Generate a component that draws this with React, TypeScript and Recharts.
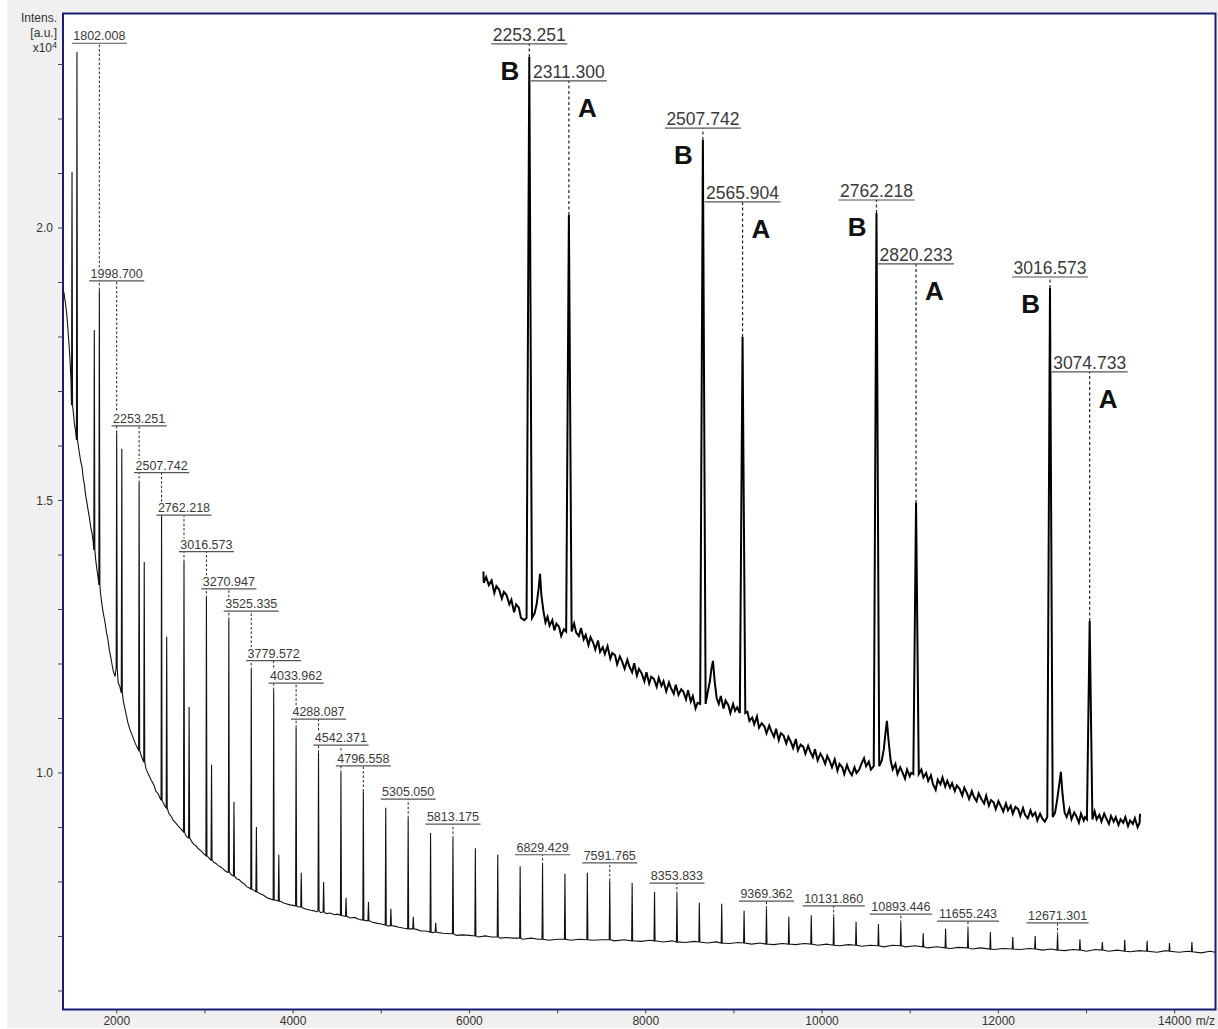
import React from 'react';
import { ComposedChart, Line, Scatter, XAxis, YAxis, ErrorBar, ReferenceArea, CartesianGrid } from 'recharts';

// ---------- main spectrum (m/z, intensity x10^4) ----------
const mainBaseline: [number, number][] = [
  [1384, 1.890], [1393, 1.884], [1401, 1.881], [1410, 1.870], [1418, 1.862], [1427, 1.850], [1435, 1.837],
  [1444, 1.818], [1452, 1.800], [1460, 1.782], [1469, 1.758], [1480, 1.722], [1505, 1.665], [1520, 1.640],
  [1532, 1.628], [1575, 1.588], [1590, 1.572], [1605, 1.562], [1620, 1.540], [1632, 1.530], [1648, 1.508],
  [1662, 1.495], [1677, 1.480], [1690, 1.468], [1705, 1.450], [1719, 1.440], [1732, 1.425], [1760, 1.392],
  [1775, 1.373], [1790, 1.356], [1815, 1.330], [1832, 1.308], [1848, 1.292], [1865, 1.278], [1882, 1.259],
  [1900, 1.244], [1915, 1.226], [1930, 1.214], [1945, 1.200], [1960, 1.187], [1980, 1.177], [2015, 1.166],
  [2035, 1.158], [2075, 1.131], [2100, 1.112], [2125, 1.093], [2150, 1.079], [2175, 1.069], [2200, 1.058],
  [2230, 1.047], [2270, 1.035], [2290, 1.026], [2330, 1.008], [2360, 0.997], [2390, 0.987], [2420, 0.978],
  [2445, 0.966], [2470, 0.962], [2490, 0.954], [2530, 0.944], [2550, 0.938], [2590, 0.926], [2615, 0.921],
  [2637, 0.914], [2670, 0.908], [2700, 0.902], [2730, 0.897], [2750, 0.893], [2780, 0.886], [2800, 0.882],
  [2850, 0.874], [2875, 0.869], [2900, 0.866], [2925, 0.861], [2950, 0.858], [2985, 0.852], [3040, 0.845],
  [3060, 0.841], [3100, 0.836], [3125, 0.834], [3150, 0.830], [3175, 0.828], [3200, 0.825], [3225, 0.821],
  [3250, 0.818], [3290, 0.815], [3310, 0.812], [3360, 0.806], [3390, 0.804], [3420, 0.799], [3450, 0.796],
  [3477, 0.791], [3505, 0.789], [3550, 0.785], [3620, 0.779], [3660, 0.776], [3704, 0.771], [3740, 0.769],
  [3760, 0.768], [3800, 0.767], [3860, 0.764], [3900, 0.761], [3965, 0.758], [4000, 0.757], [4060, 0.754],
  [4110, 0.752], [4150, 0.750], [4200, 0.748], [4240, 0.747], [4270, 0.745], [4310, 0.744], [4380, 0.742],
  [4419, 0.743], [4470, 0.740], [4500, 0.741], [4580, 0.737], [4650, 0.734], [4700, 0.735], [4750, 0.731],
  [4830, 0.729], [4900, 0.726], [4960, 0.724], [5000, 0.723], [5080, 0.719], [5150, 0.719], [5200, 0.717],
  [5260, 0.715], [5330, 0.714], [5400, 0.713], [5450, 0.710], [5500, 0.710], [5580, 0.707], [5650, 0.707],
  [5700, 0.706], [5780, 0.705], [5850, 0.702], [5920, 0.703], [6000, 0.702], [6100, 0.699], [6180, 0.701],
  [6250, 0.699], [6350, 0.697], [6420, 0.698], [6500, 0.697], [6600, 0.695], [6700, 0.697], [6780, 0.695],
  [6900, 0.693], [7000, 0.695], [7150, 0.693], [7250, 0.695], [7400, 0.693], [7500, 0.694], [7650, 0.692],
  [7750, 0.694], [7950, 0.691], [8050, 0.693], [8200, 0.690], [8300, 0.692], [8450, 0.689], [8550, 0.691],
  [8700, 0.688], [8800, 0.690], [8950, 0.687], [9050, 0.689], [9200, 0.686], [9300, 0.688], [9450, 0.685],
  [9550, 0.687], [9700, 0.685], [9800, 0.687], [9950, 0.684], [10050, 0.686], [10200, 0.683], [10300, 0.685],
  [10450, 0.682], [10550, 0.684], [10700, 0.681], [10800, 0.684], [10950, 0.681], [11050, 0.683], [11200, 0.679],
  [11300, 0.681], [11450, 0.678], [11550, 0.680], [11700, 0.677], [11800, 0.679], [11950, 0.676], [12050, 0.678],
  [12250, 0.676], [12350, 0.678], [12500, 0.675], [12600, 0.677], [12750, 0.674], [12850, 0.676], [13000, 0.673],
  [13100, 0.676], [13250, 0.673], [13350, 0.675], [13500, 0.672], [13600, 0.674], [13800, 0.671], [13900, 0.674],
  [14050, 0.671], [14150, 0.673], [14300, 0.670], [14400, 0.673], [14460, 0.671],
];

const peakMz = [
  1492, 1548, 1745, 1802.008, 1998.7, 2056.7, 2253.251, 2311.3, 2507.742, 2565.9, 2762.218, 2820.2,
  3016.573, 3074.7, 3270.947, 3329, 3525.335, 3583.4, 3779.572, 3837.6, 4033.962, 4092, 4288.087, 4346,
  4542.371, 4600.5, 4796.558, 4854.6, 5050.8, 5109, 5305.05, 5363, 5559.1, 5617.5, 5813.175, 6067.2,
  6321.3, 6575.4, 6829.429, 7083.5, 7337.6, 7591.765, 7845.8, 8099.8, 8353.833, 8607.8, 8861.7, 9115.5,
  9369.362, 9623.3, 9877.6, 10131.86, 10385.7, 10639.6, 10893.446, 11147.4, 11401.3, 11655.243, 11909.3,
  12163.3, 12417.3, 12671.301, 12925.3, 13179.3, 13433.3, 13687.3, 13941.3, 14195.3,
];
const peakTop = [
  2.103, 2.323, 1.813, 1.886, 1.624, 1.595, 1.532, 1.387, 1.473, 1.250, 1.387, 1.121,
  1.321, 1.015, 1.281, 0.947, 1.189, 0.901, 1.152, 0.850, 1.083, 0.817, 1.037, 0.800,
  1.000, 0.771, 0.966, 0.763, 0.936, 0.751, 0.917, 0.736, 0.890, 0.725, 0.880, 0.862,
  0.850, 0.829, 0.831, 0.815, 0.817, 0.802, 0.798, 0.782, 0.778, 0.762, 0.760, 0.747,
  0.751, 0.736, 0.739, 0.736, 0.727, 0.723, 0.725, 0.706, 0.714, 0.714, 0.708,
  0.699, 0.701, 0.703, 0.695, 0.690, 0.694, 0.692, 0.688, 0.690,
];
const peakBase = [
  1.675, 1.611, 1.409, 1.345, 1.193, 1.147, 1.042, 1.020, 0.950, 0.936, 0.892, 0.881,
  0.848, 0.840, 0.818, 0.811, 0.787, 0.782, 0.767, 0.765, 0.756, 0.754, 0.747, 0.745,
  0.739, 0.737, 0.730, 0.729, 0.721, 0.720, 0.714, 0.714, 0.708, 0.708, 0.705, 0.701,
  0.699, 0.697, 0.695, 0.695, 0.694, 0.694, 0.692, 0.692, 0.690, 0.690, 0.688, 0.688,
  0.686, 0.686, 0.686, 0.684, 0.684, 0.683, 0.683, 0.681, 0.679, 0.679, 0.677,
  0.677, 0.677, 0.675, 0.675, 0.675, 0.673, 0.673, 0.673, 0.672,
];

const labeledMz = [
  1802.008, 1998.7, 2253.251, 2507.742, 2762.218, 3016.573, 3270.947, 3525.335, 3779.572, 4033.962,
  4288.087, 4542.371, 4796.558, 5305.05, 5813.175, 6829.429, 7591.765, 8353.833, 9369.362, 10131.86,
  10893.446, 11655.243, 12671.301,
];
const labelLevel = [
  2.339, 1.903, 1.637, 1.551, 1.473, 1.406, 1.338, 1.297, 1.206, 1.165,
  1.099, 1.051, 1.013, 0.952, 0.906, 0.850, 0.835, 0.798, 0.765, 0.756,
  0.741, 0.728, 0.725,
];

// ---------- inset (zoom 2190-3150) ----------
const insetBaseline: [number, number][] = [
  [2186, 1.087], [2186.5, 1.077], [2190, 1.082], [2194, 1.075], [2198, 1.079], [2202, 1.068], [2205, 1.074],
  [2209, 1.071], [2213, 1.063], [2216, 1.069], [2220, 1.066], [2224, 1.058], [2227, 1.062], [2231, 1.051],
  [2234, 1.058], [2238, 1.055], [2241, 1.046], [2246, 1.044],
  [2261, 1.050], [2264, 1.058], [2267, 1.072], [2269, 1.085], [2271, 1.066], [2274, 1.052], [2277, 1.042],
  [2280, 1.047], [2283, 1.039], [2287, 1.044], [2290, 1.035], [2293, 1.041], [2297, 1.038], [2300, 1.030],
  [2304, 1.036],
  [2319, 1.041], [2322, 1.033], [2326, 1.030], [2329, 1.037], [2333, 1.027], [2336, 1.031], [2340, 1.022],
  [2343, 1.029], [2347, 1.024], [2350, 1.018], [2354, 1.026], [2357, 1.016], [2361, 1.020], [2364, 1.014],
  [2368, 1.021], [2372, 1.010], [2375, 1.015], [2379, 1.013], [2382, 1.005], [2386, 1.012], [2389, 1.008],
  [2393, 1.001], [2397, 1.009], [2400, 1.003], [2404, 0.998], [2407, 1.006], [2411, 0.995], [2414, 1.001],
  [2418, 0.997], [2422, 0.990], [2425, 0.998], [2429, 0.988], [2432, 0.994], [2436, 0.992], [2440, 0.985],
  [2443, 0.993], [2447, 0.986], [2450, 0.990], [2454, 0.981], [2458, 0.989], [2461, 0.984], [2465, 0.979],
  [2468, 0.987], [2472, 0.978], [2476, 0.983], [2479, 0.981], [2483, 0.974], [2486, 0.982], [2490, 0.972],
  [2493, 0.977], [2497, 0.966], [2500, 0.971],
  [2515, 0.981], [2518, 0.990], [2520, 1.000], [2522.5, 1.008], [2525, 0.990], [2528, 0.975], [2531, 0.970],
  [2534, 0.977], [2538, 0.966], [2541, 0.973], [2545, 0.969], [2548, 0.962], [2552, 0.970], [2555, 0.964],
  [2558, 0.967],
  [2573, 0.963], [2576, 0.955], [2580, 0.958], [2583, 0.952], [2587, 0.959], [2590, 0.949], [2594, 0.953],
  [2598, 0.950], [2601, 0.944], [2605, 0.951], [2608, 0.946], [2612, 0.941], [2615, 0.948], [2619, 0.938],
  [2622, 0.944], [2626, 0.942], [2630, 0.935], [2633, 0.941], [2637, 0.936], [2640, 0.931], [2644, 0.939],
  [2647, 0.929], [2651, 0.934], [2655, 0.932], [2658, 0.926], [2662, 0.933], [2665, 0.928], [2669, 0.923],
  [2672, 0.930], [2676, 0.920], [2680, 0.926], [2683, 0.923], [2687, 0.917], [2690, 0.924], [2694, 0.919],
  [2697, 0.914], [2701, 0.921], [2705, 0.911], [2708, 0.917], [2712, 0.914], [2715, 0.908], [2719, 0.916],
  [2722, 0.911], [2726, 0.907], [2730, 0.914], [2733, 0.909], [2737, 0.912], [2740, 0.917], [2744, 0.922],
  [2747, 0.915], [2751, 0.919], [2754, 0.912],
  [2770, 0.920], [2773, 0.930], [2775, 0.942], [2777.5, 0.955], [2780, 0.937], [2783, 0.920], [2786, 0.912],
  [2790, 0.917], [2793, 0.908], [2797, 0.914], [2800, 0.910], [2804, 0.904], [2807, 0.912], [2811, 0.906],
  [2813, 0.909],
  [2828, 0.912], [2831, 0.905], [2835, 0.909], [2838, 0.902], [2842, 0.907], [2845, 0.899], [2849, 0.894],
  [2852, 0.903], [2856, 0.899], [2859, 0.905], [2863, 0.897], [2866, 0.902], [2870, 0.896], [2873, 0.900],
  [2877, 0.893], [2880, 0.898], [2884, 0.895], [2888, 0.889], [2891, 0.896], [2895, 0.891], [2898, 0.886],
  [2902, 0.893], [2905, 0.888], [2909, 0.884], [2912, 0.891], [2916, 0.886], [2920, 0.882], [2923, 0.889],
  [2927, 0.880], [2930, 0.885], [2934, 0.883], [2937, 0.877], [2941, 0.884], [2945, 0.879], [2948, 0.875],
  [2952, 0.882], [2955, 0.876], [2959, 0.880], [2962, 0.873], [2966, 0.879], [2970, 0.877], [2973, 0.871],
  [2977, 0.878], [2980, 0.872], [2984, 0.869], [2988, 0.876], [2991, 0.871], [2995, 0.874], [2998, 0.867],
  [3002, 0.873], [3005, 0.869], [3009, 0.866],
  [3024, 0.874], [3027, 0.885], [3030, 0.898], [3032.5, 0.910], [3035, 0.890], [3038, 0.874], [3041, 0.870],
  [3045, 0.877], [3048, 0.868], [3052, 0.874], [3055, 0.871], [3059, 0.865], [3062, 0.873], [3066, 0.867],
  [3068, 0.870],
  [3082, 0.875], [3085, 0.868], [3089, 0.872], [3092, 0.866], [3096, 0.873], [3099, 0.869], [3103, 0.864],
  [3106, 0.871], [3110, 0.866], [3113, 0.870], [3117, 0.863], [3120, 0.868], [3124, 0.865], [3127, 0.870],
  [3131, 0.862], [3134, 0.867], [3138, 0.864], [3141, 0.869], [3145, 0.861], [3148, 0.865], [3148.5, 0.873],
];
const insetPeakMz = [2253.251, 2311.3, 2507.742, 2565.904, 2762.218, 2820.233, 3016.573, 3074.733];
const insetPeakTop = [1.5416, 1.402, 1.4682, 1.2942, 1.4037, 1.1476, 1.3375, 1.0433];
const insetPeakBase = [1.046, 1.034, 0.970, 0.962, 0.915, 0.908, 0.870, 0.868];
const insetLabelLevel = [1.5531, 1.5204, 1.4788, 1.4135, 1.4152, 1.3587, 1.3472, 1.2633];
const insetSeries = ['B', 'A', 'B', 'A', 'B', 'A', 'B', 'A'];

const xTicks = [2000, 3000, 4000, 5000, 6000, 7000, 8000, 9000, 10000, 11000, 12000, 13000, 14000];
const yTicks = [0.6, 0.7, 0.8, 0.9, 1.0, 1.1, 1.2, 1.3, 1.4, 1.5, 1.6, 1.7, 1.8, 1.9, 2.0, 2.1, 2.2, 2.3];
const yLabelled = [1.0, 1.5, 2.0];

const mainXDomain: [number, number] = [1389.7, 14463];
const mainYDomain: [number, number] = [0.566, 2.3936];
const insetXDomain: [number, number] = [1569.7, 3259.2];
const insetYDomain: [number, number] = [0.70, 1.58];

// ---------- build traces ----------
function buildTrace(baseline: [number, number][], mzs: number[], tops: number[], bases: number[], hw: number) {
  const pts = baseline
    .filter(([m]) => mzs.every((p) => Math.abs(p - m) > hw + 1))
    .map(([m, v]) => ({ x: m, y: v }));
  mzs.forEach((m, i) => {
    pts.push({ x: m - hw, y: bases[i] }, { x: m, y: tops[i] }, { x: m + hw, y: bases[i] });
  });
  pts.sort((a, b) => a.x - b.x);
  return pts;
}

const mainTrace = buildTrace(mainBaseline, peakMz, peakTop, peakBase, 6);
const insetTrace = buildTrace(insetBaseline, insetPeakMz, insetPeakTop, insetPeakBase, 4);

const mainLabels = labeledMz.map((m, i) => {
  const top = peakTop[peakMz.indexOf(m)];
  return { x: m, y: labelLevel[i], err: [labelLevel[i] - top, 0], text: m.toFixed(3) };
});
const insetLabels = insetPeakMz.map((m, i) => ({
  x: m,
  y: insetLabelLevel[i],
  err: [insetLabelLevel[i] - insetPeakTop[i], 0],
  text: m.toFixed(3),
  series: insetSeries[i],
}));

const FONT = '"Liberation Sans", Arial, Helvetica, sans-serif';
const textW = (s: string, fs: number) =>
  s.split('').reduce((a, c) => a + (c === '.' ? 0.278 : 0.556), 0) * fs;

const PeakLabel = (props: any) => {
  const { cx, cy, payload, fs } = props;
  if (cx == null || cy == null) return null;
  const w = textW(payload.text, fs) + 3;
  return (
    <g>
      <rect x={cx - w / 2} y={cy - fs - 1} width={w} height={fs + 0.5} fill="#fff" />
      <text x={cx} y={cy - 3} textAnchor="middle" fontSize={fs} fill="#3a3a3a" fontFamily={FONT}>
        {payload.text}
      </text>
      <line x1={cx - w / 2} x2={cx + w / 2} y1={cy} y2={cy} stroke="#555" strokeWidth={1.2} />
      {payload.series === 'B' && (
        <text x={cx - 10} y={cy + 36} textAnchor="end" fontSize={26} fontWeight="bold" fill="#111" fontFamily={FONT}>
          B
        </text>
      )}
      {payload.series === 'A' && (
        <text x={cx + 9} y={cy + 36} textAnchor="start" fontSize={26} fontWeight="bold" fill="#111" fontFamily={FONT}>
          A
        </text>
      )}
    </g>
  );
};

const XTick = (props: any) => {
  const { x, y, payload } = props;
  const v = payload.value;
  if (v % 2000 !== 0) return null;
  return (
    <g>
      <text x={x} y={y} dy="0.71em" textAnchor="middle" fontSize={12} fill="#333" fontFamily={FONT}>
        {v}
      </text>
      {v === 14000 && (
        <text x={x + 21} y={y} dy="0.71em" textAnchor="start" fontSize={12} fill="#333" fontFamily={FONT}>
          m/z
        </text>
      )}
    </g>
  );
};

const YTick = (props: any) => {
  const { x, y, payload } = props;
  const v = payload.value;
  if (!yLabelled.some((t) => Math.abs(t - v) < 1e-6)) return null;
  return (
    <text x={x} y={y} dy="0.35em" textAnchor="end" fontSize={12} fill="#333" fontFamily={FONT}>
      {v.toFixed(1)}
    </text>
  );
};

export default function App() {
  return (
    <div style={{ position: 'absolute', left: 0, top: 0, width: 1218, height: 1029, background: '#fff', fontFamily: FONT }}>
      <div style={{ position: 'absolute', left: 7, top: 0, width: 1211, height: 1028, background: '#f0f0f0' }} />
      <div style={{ position: 'absolute', left: 0, top: 0 }}>
        <ComposedChart width={1218} height={1029} margin={{ top: 13.5, right: 2.5, bottom: 0, left: 0 }}>
          <CartesianGrid xAxisId="main" yAxisId="main" horizontal={false} vertical={false} fill="#fff" fillOpacity={1} />
          <XAxis
            xAxisId="main"
            dataKey="x"
            type="number"
            domain={mainXDomain}
            allowDataOverflow
            ticks={xTicks}
            interval={0}
            height={19.5}
            axisLine={false}
            tickLine={{ stroke: '#444' }}
            tickSize={4}
            tickMargin={3}
            tick={<XTick />}
          />
          <YAxis
            yAxisId="main"
            dataKey="y"
            type="number"
            domain={mainYDomain}
            allowDataOverflow
            ticks={yTicks}
            interval={0}
            width={63}
            axisLine={false}
            tickLine={{ stroke: '#444' }}
            tickSize={5}
            tickMargin={5}
            tick={<YTick />}
          />
          <XAxis xAxisId="inset" dataKey="x" type="number" domain={insetXDomain} allowDataOverflow hide height={0} />
          <YAxis yAxisId="inset" dataKey="y" type="number" domain={insetYDomain} allowDataOverflow hide width={0} />

          <Line
            data={mainTrace}
            xAxisId="main"
            yAxisId="main"
            dataKey="y"
            type="linear"
            dot={false}
            activeDot={false}
            stroke="#111"
            strokeWidth={1.1}
            isAnimationActive={false}
          />
          <Scatter
            data={mainLabels}
            xAxisId="main"
            yAxisId="main"
            isAnimationActive={false}
            shape={(p: any) => <PeakLabel {...p} fs={12.5} />}
          >
            <ErrorBar dataKey="err" direction="y" width={0} stroke="#222" strokeWidth={1} strokeDasharray="2.5 2" isAnimationActive={false} />
          </Scatter>

          <Line
            data={insetTrace}
            xAxisId="inset"
            yAxisId="inset"
            dataKey="y"
            type="linear"
            dot={false}
            activeDot={false}
            stroke="#000"
            strokeWidth={2}
            isAnimationActive={false}
          />
          <Scatter
            data={insetLabels}
            xAxisId="inset"
            yAxisId="inset"
            isAnimationActive={false}
            shape={(p: any) => <PeakLabel {...p} fs={17.5} />}
          >
            <ErrorBar dataKey="err" direction="y" width={0} stroke="#222" strokeWidth={1.2} strokeDasharray="3 2.5" isAnimationActive={false} />
          </Scatter>

          <ReferenceArea
            xAxisId="main"
            yAxisId="main"
            x1={mainXDomain[0]}
            x2={mainXDomain[1]}
            y1={mainYDomain[0]}
            y2={mainYDomain[1]}
            fill="none"
            stroke="#1c1c74"
            strokeWidth={2}
            ifOverflow="visible"
          />
        </ComposedChart>
      </div>
      <div
        style={{
          position: 'absolute',
          left: 0,
          width: 57,
          top: 11,
          fontSize: 12,
          lineHeight: '15px',
          textAlign: 'right',
          color: '#333',
        }}
      >
        Intens.
        <br />
        [a.u.]
        <br />
        x10<span style={{ fontSize: 9, position: 'relative', top: -4 }}>4</span>
      </div>
    </div>
  );
}
